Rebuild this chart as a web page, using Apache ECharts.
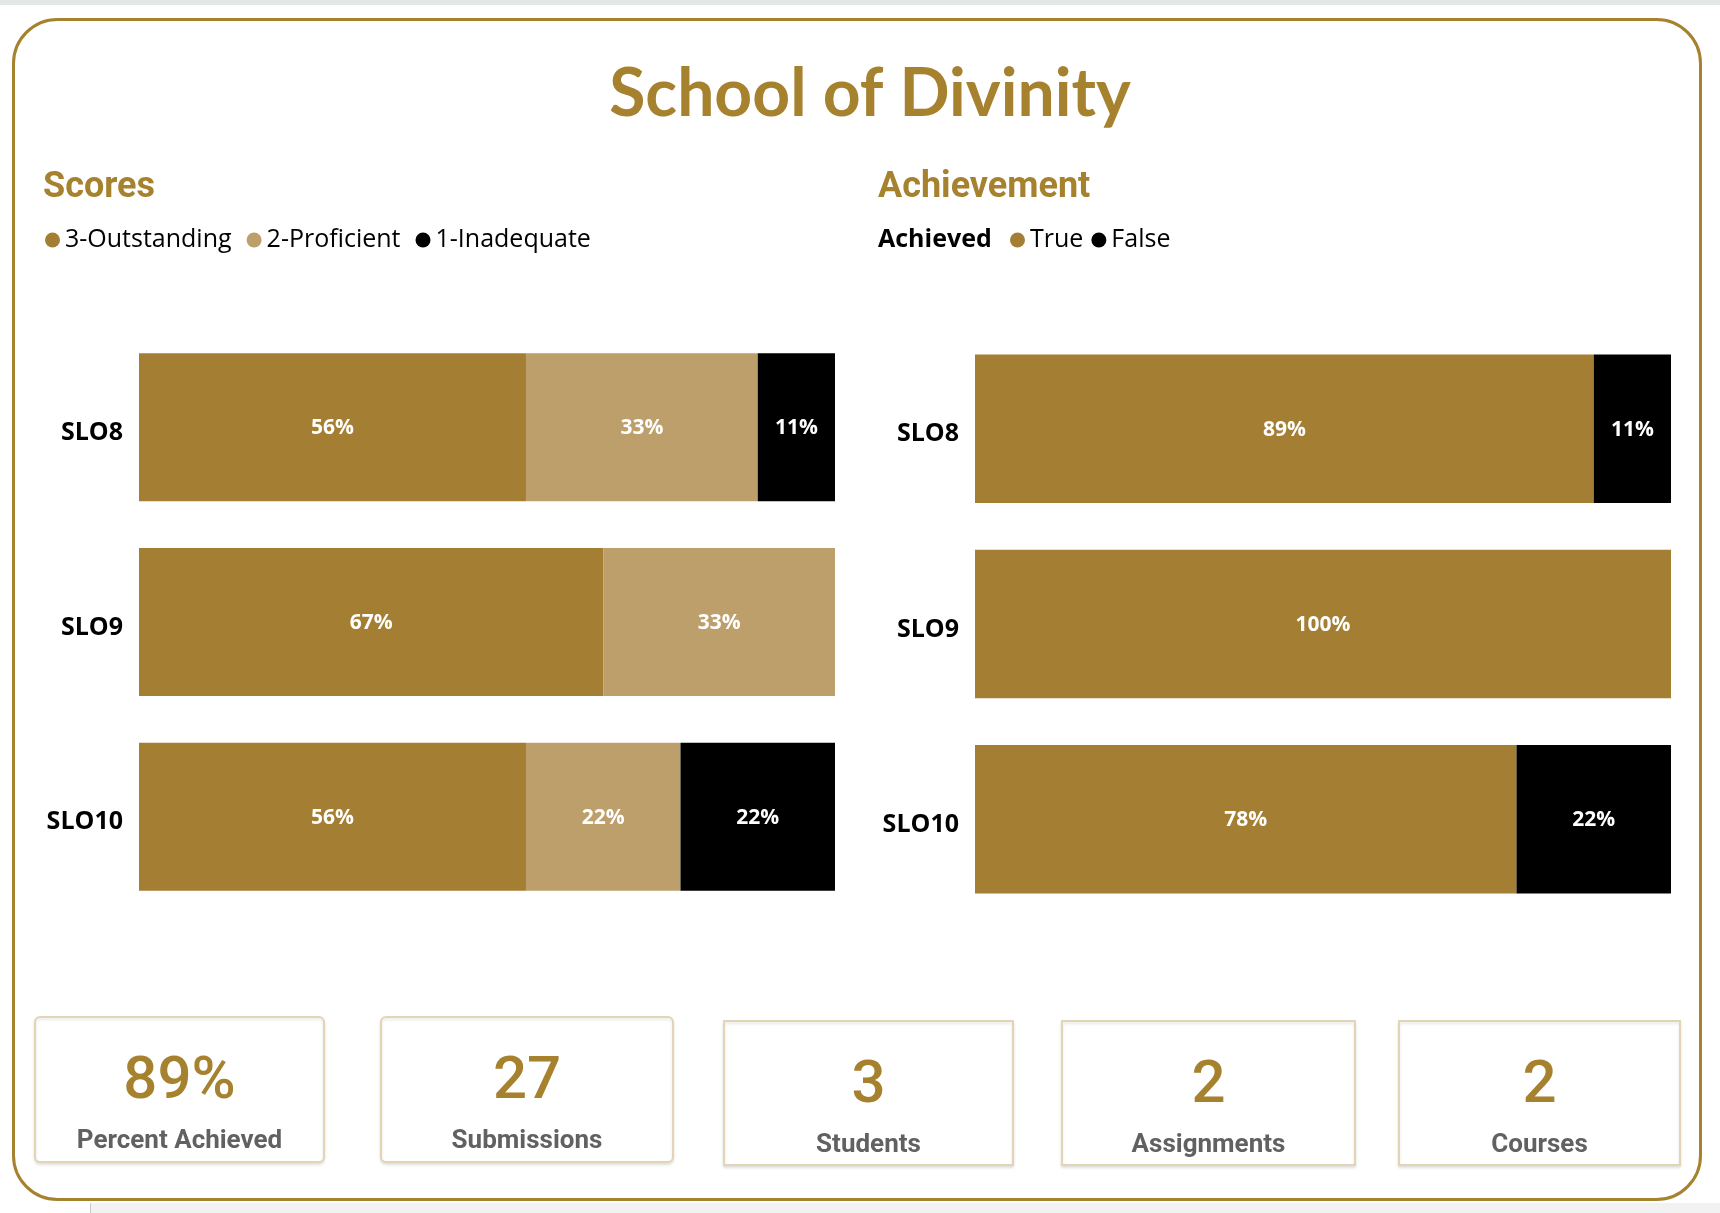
<!DOCTYPE html>
<html lang="en">
<head>
    <meta charset="UTF-8">
    <title>School of Divinity</title>
    <script src="https://cdn.jsdelivr.net/npm/echarts@6.0.0/dist/echarts.min.js"></script>
    <style>
        html, body { margin: 0; padding: 0; background: #ffffff; }
    </style>
</head>
<body>
<div id="main" style="width: 1720px;height:1213px;"></div> <!-- div for the chart -->
<script type="text/javascript">
    // data
    const slos = ['SLO8', 'SLO9', 'SLO10'];
    const scoreNames = ['3-Outstanding', '2-Proficient', '1-Inadequate'];
    const outstanding = [55.6, 66.7, 55.6];
    const proficient = [33.3, 33.3, 22.2];
    const inadequate = [11.1, 0, 22.2];
    const achievedNames = ['True', 'False'];
    const achievedTrue = [88.9, 100, 77.8];
    const achievedFalse = [11.1, 0, 22.2];
    const kpiValues = ['89%', '27', '3', '2', '2'];
    const kpiLabels = ['Percent Achieved', 'Submissions', 'Students', 'Assignments', 'Courses'];

    const gold = '#a47f33';
    const tan = '#bd9f6b';
    const titleGold = '#a6822f';

    // card boxes: x, y, w, h, radius, value y, label y
    const cardBoxes = [
        [35, 1017, 289, 145, 5, 1083, 1141],
        [381, 1017, 292, 145, 5, 1083, 1141],
        [724, 1021, 289, 144, 0, 1087, 1145],
        [1062, 1021, 293, 144, 0, 1087, 1145],
        [1399, 1021, 281, 144, 0, 1087, 1145]
    ];

    let graphics = [
        { type: 'rect', z: -10, shape: { x: 0, y: 0, width: 1720, height: 5 }, style: { fill: '#e1e8e5' } },
        { type: 'rect', z: -10, shape: { x: 91, y: 1203, width: 1629, height: 10 }, style: { fill: '#f2f2f2' } },
        { type: 'rect', z: -10, shape: { x: 90, y: 1203, width: 1, height: 10 }, style: { fill: '#c8c8c8' } },
        { type: 'rect', z: -5, shape: { x: 13.5, y: 19.5, width: 1687, height: 1180, r: 44 },
          style: { fill: '#ffffff', stroke: titleGold, lineWidth: 3 } },
        { type: 'text', x: 870, y: 95, style: { text: 'School of Divinity', fill: titleGold, font: 'bold 66px Lato',
          textAlign: 'center', textVerticalAlign: 'middle' } },
        { type: 'text', x: 43, y: 188, style: { text: 'Scores', fill: titleGold, font: 'bold 36px Roboto',
          textAlign: 'left', textVerticalAlign: 'middle' } },
        { type: 'text', x: 878, y: 188, style: { text: 'Achievement', fill: titleGold, font: 'bold 36px Roboto',
          textAlign: 'left', textVerticalAlign: 'middle' } },
        { type: 'text', x: 878, y: 240, style: { text: 'Achieved', fill: '#000000', font: 'bold 25px "Open Sans"',
          textAlign: 'left', textVerticalAlign: 'middle' } }
    ];
    cardBoxes.forEach((b, i) => { // KPI cards
        graphics.push({ type: 'rect', z: 1, shape: { x: b[0], y: b[1], width: b[2], height: b[3], r: b[4] },
            style: { fill: '#ffffff', stroke: '#e2d4b4', lineWidth: 2,
                shadowColor: 'rgba(0,0,0,0.10)', shadowBlur: 3, shadowOffsetY: 2 } });
        graphics.push({ type: 'text', z: 2, x: b[0] + b[2] / 2, y: b[5], style: { text: kpiValues[i], fill: titleGold,
            font: '500 60px Roboto', textAlign: 'center', textVerticalAlign: 'middle' } });
        graphics.push({ type: 'text', z: 2, x: b[0] + b[2] / 2, y: b[6], style: { text: kpiLabels[i], fill: '#616161',
            font: 'bold 26px Roboto', textAlign: 'center', textVerticalAlign: 'middle' } });
    });

    function pct(p) { // label text, hide empty segments
        return p.value > 0 ? Math.round(p.value) + '%' : '';
    }
    function barSeries(name, data, color, idx) {
        return {
            name: name, type: 'bar', stack: 's' + idx, xAxisIndex: idx, yAxisIndex: idx,
            data: data, barCategoryGap: '24%', itemStyle: { color: color },
            label: { show: true, position: 'inside', formatter: pct, color: '#ffffff', offset: [0, 1],
                fontFamily: 'Open Sans', fontWeight: 'bold', fontSize: 21 },
            emphasis: { disabled: true }
        };
    }
    const catAxis = (idx) => ({
        type: 'category', gridIndex: idx, data: slos, inverse: true,
        axisLine: { show: false }, axisTick: { show: false }, splitLine: { show: false },
        axisLabel: { color: '#000000', fontFamily: 'Open Sans', fontWeight: 'bold', fontSize: 25, margin: 16,
            verticalAlign: 'top', lineHeight: 11 }
    });
    const valAxis = (idx) => ({ type: 'value', gridIndex: idx, min: 0, max: 100, show: false });

    let options = {
        animation: false,
        graphic: graphics,
        legend: [
            { data: scoreNames, left: 45, top: 225, padding: 0, icon: 'circle', itemWidth: 15, itemHeight: 15,
              itemGap: 15, textStyle: { fontFamily: 'Open Sans', fontSize: 25, color: '#000000', lineHeight: 30 } },
            { data: achievedNames, left: 1010, top: 225, padding: 0, icon: 'circle', itemWidth: 15, itemHeight: 15,
              itemGap: 8, textStyle: { fontFamily: 'Open Sans', fontSize: 25, color: '#000000', lineHeight: 30 } }
        ],
        grid: [
            { left: 139, top: 330, width: 696, height: 584 },
            { left: 975, top: 331, width: 696, height: 586 }
        ],
        xAxis: [valAxis(0), valAxis(1)],
        yAxis: [catAxis(0), catAxis(1)],
        series: [
            barSeries(scoreNames[0], outstanding, gold, 0),
            barSeries(scoreNames[1], proficient, tan, 0),
            barSeries(scoreNames[2], inadequate, '#000000', 0),
            barSeries(achievedNames[0], achievedTrue, gold, 1),
            barSeries(achievedNames[1], achievedFalse, '#000000', 1)
        ]
    };
    let myChart = echarts.init(document.getElementById('main')); // initialize the chart
    myChart.setOption(options);
</script>
</body>
</html>
